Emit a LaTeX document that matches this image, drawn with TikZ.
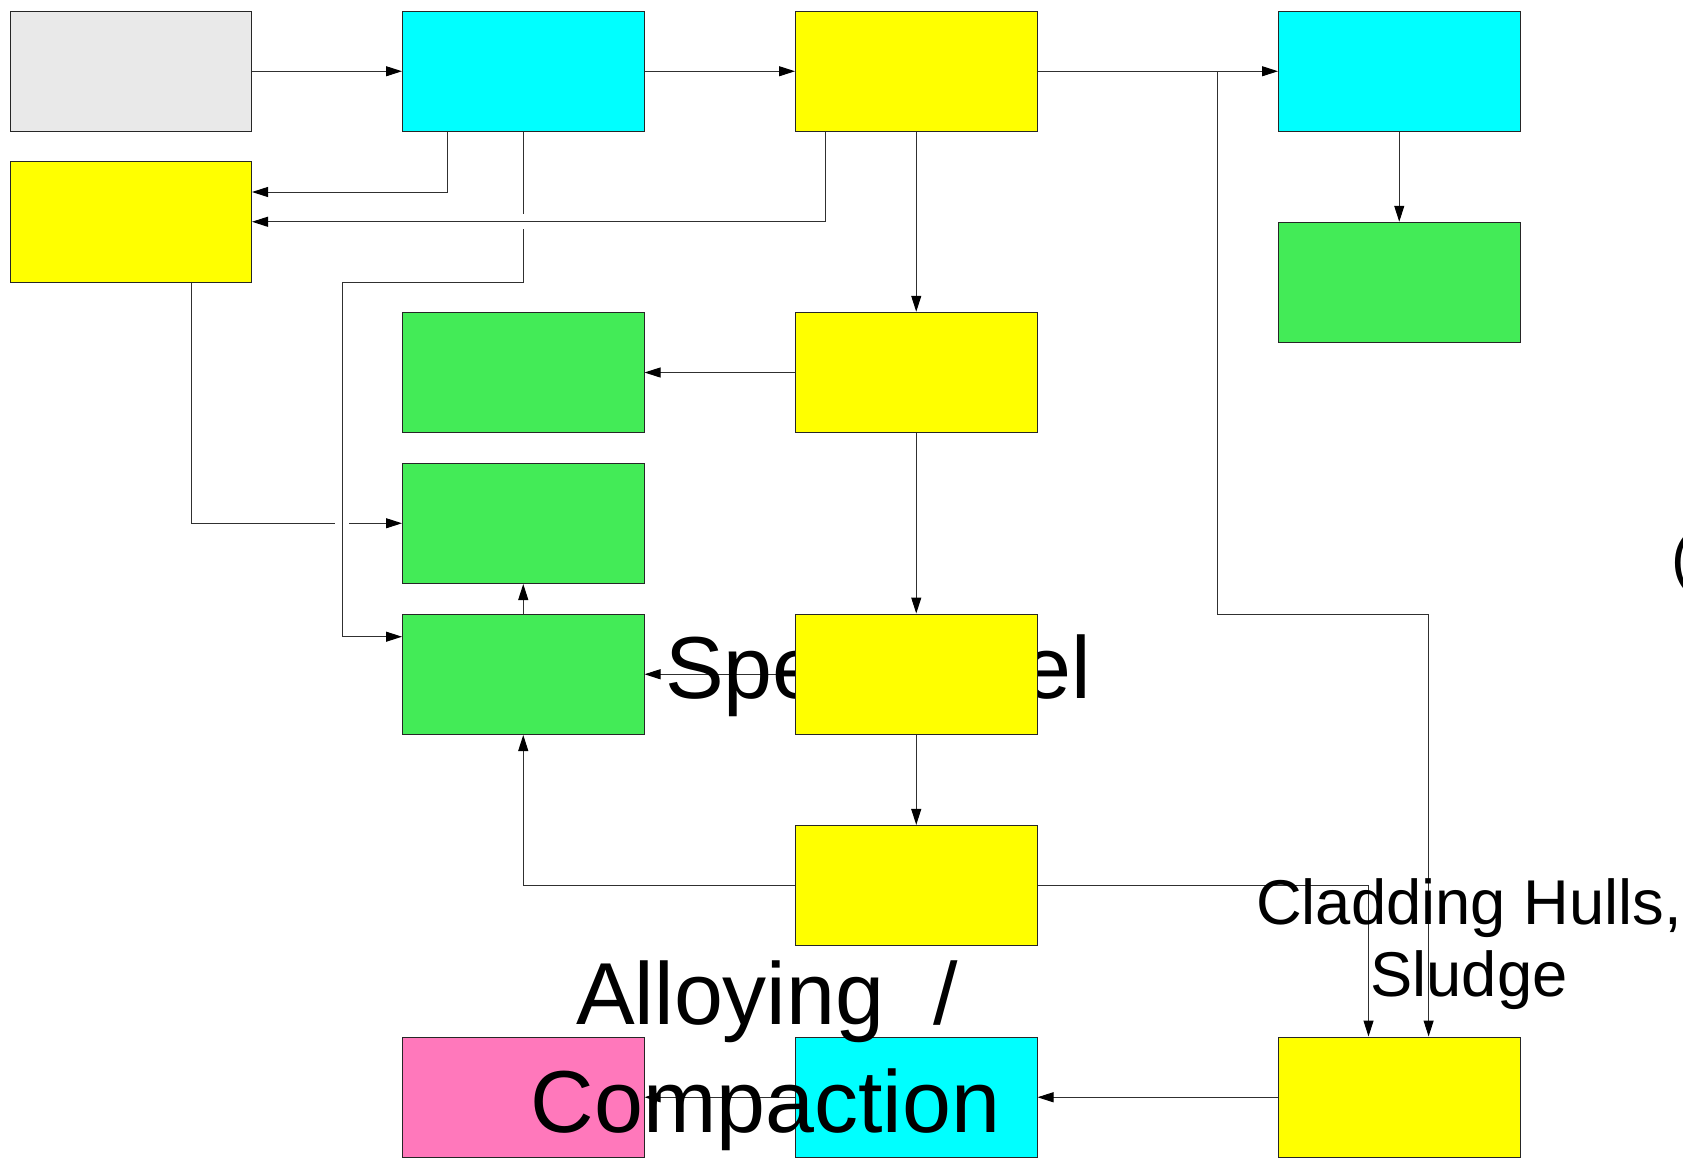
\documentclass[tikz,border=0pt]{standalone}
\usepackage{fontspec}
\setmainfont{Liberation Sans}
\usetikzlibrary{arrows.meta,backgrounds}
\definecolor{cgrey}{HTML}{E9E9E9}
\definecolor{ccyan}{HTML}{00FFFF}
\definecolor{cyell}{HTML}{FFFF00}
\definecolor{cgreen}{HTML}{43EB57}
\definecolor{cpink}{HTML}{FF78BB}
\definecolor{cline}{HTML}{303030}
\tikzset{
  box/.style={draw=black!85, line width=1pt, minimum width=241.5pt, minimum height=120.5pt, inner sep=0pt},
  wire/.style={draw=cline, line width=1pt},
  conn/.style={wire, -{Triangle[length=16pt,width=10pt,color=black]}},
  bigtext/.style={inner sep=0pt, anchor=base, text=black},
}
\begin{document}
\begin{tikzpicture}[x=1pt,y=-1pt]
\useasboundingbox (0,0) rectangle (1683,1160);
% boxes
\node[box, fill=cgrey]  (A) at (130.75,71.25) {};
\node[box, fill=ccyan]  (B) at (523.25,71.25) {};
\node[box, fill=cyell]  (C) at (916.25,71.25) {};
\node[box, fill=ccyan]  (D) at (1399.25,71.25) {};
\node[box, fill=cyell]  (E) at (130.75,221.75) {};
\node[box, fill=cgreen] (F) at (1399.25,282.5) {};
\node[box, fill=cgreen] (G) at (523.25,372.5) {};
\node[box, fill=cyell]  (H) at (916.25,372.5) {};
\node[box, fill=cgreen] (I) at (523.25,523.25) {};
\node[box, fill=cgreen] (J) at (523.25,674.25) {};
\node[box, fill=cyell]  (K) at (916.25,674.25) {};
\node[box, fill=cyell]  (L) at (916.25,885.6) {};
\node[box, fill=cpink]  (M) at (523.25,1097.25) {};
\node[box, fill=ccyan]  (N) at (916.25,1097.25) {};
\node[box, fill=cyell]  (O) at (1399.25,1097.25) {};
% free coordinates
\coordinate (g1) at (523.25,213.5);
\coordinate (g2) at (523.25,229);
\coordinate (g3) at (335,523.25);
\coordinate (g4) at (349.3,523.25);
\coordinate (br) at (1217,71.25);
\begin{pgfonlayer}{background}
\draw[conn] (A.east) -- (B.west);
\draw[conn] (B.east) -- (C.west);
\draw[conn] (C.east) -- (D.west);
\draw[conn] ([xshift=-75.65pt]B.south) |- ([yshift=29.75pt]E.east);
\draw[conn] ([xshift=-90.85pt]C.south) |- (E.east);
\draw[wire] (B.south) -- (g1);
\draw[conn] (g2) |- (342,282) |- ([yshift=37.55pt]J.west);
\draw[wire] ([xshift=60.25pt]E.south) |- (g3);
\draw[conn] (g4) -- (I.west);
\draw[conn] (C.south) -- (H.north);
\draw[conn] (H.west) -- (G.east);
\draw[conn] (H.south) -- (K.north);
\draw[conn] (K.west) -- (J.east);
\draw[conn] (J.north) -- (I.south);
\draw[conn] (K.south) -- (L.north);
\draw[conn] (L.west) -| (J.south);
\draw[conn] (L.east) -| ([xshift=-30.75pt]O.north);
\draw[conn] (br) -- (1217,614) -| ([xshift=29.35pt]O.north);
\draw[conn] (D.south) -- (F.north);
\draw[conn] (O.west) -- (N.east);
\draw[conn] (N.west) -- (M.east);
\node[bigtext, font=\fontsize{88}{100}\selectfont] (tSF) at (878,698) {Spent Fuel};
\end{pgfonlayer}
% texts on top
\node[bigtext, font=\fontsize{88}{107}\selectfont] (tAl) at (767,1024) {Alloying\ \ /};
\node[bigtext, font=\fontsize{88}{107}\selectfont] (tCo) at (765.5,1132) {Compaction};
\node[bigtext, font=\fontsize{63.3}{73}\selectfont] (tCl) at (1469,924) {Cladding Hulls,};
\node[bigtext, font=\fontsize{63.3}{73}\selectfont] (tSl) at (1469,996) {Sludge};
\node[bigtext, anchor=base west, font=\fontsize{63.3}{73}\selectfont] (tPa) at (1671,579) {(};
\end{tikzpicture}
\end{document}
